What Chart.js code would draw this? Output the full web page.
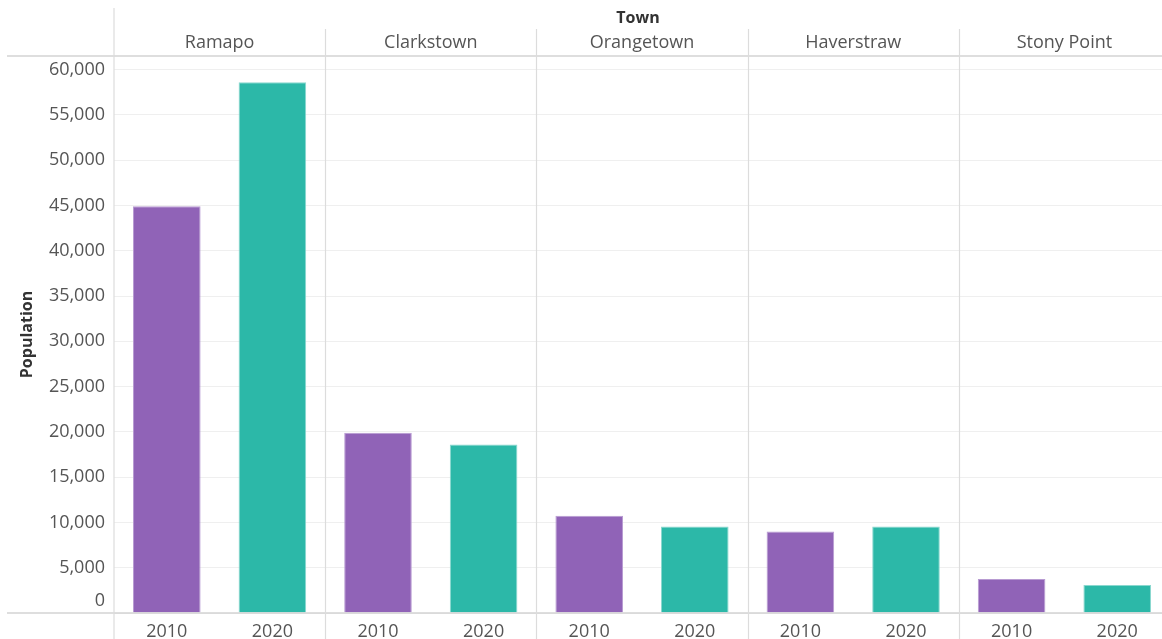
<!DOCTYPE html>
<html>
<head>
<meta charset="utf-8">
<script src="https://cdn.jsdelivr.net/npm/chart.js@4"></script>
<style>
    html, body { margin: 0; padding: 0; background: #fff; overflow: hidden; }
    #wrap { width: 1170px; height: 639px; }
</style>
</head>
<body>
<div id="wrap"><canvas id="chart" width="1170" height="639"></canvas></div>
<script>
// data
const towns = ['Ramapo', 'Clarkstown', 'Orangetown', 'Haverstraw', 'Stony Point'];
const years = ['2010', '2020'];
const pop2010 = [44900, 19900, 10750, 9000, 3750];
const pop2020 = [58600, 18600, 9550, 9550, 3100];
const yTicks = [0, 5000, 10000, 15000, 20000, 25000, 30000, 35000, 40000, 45000, 50000, 55000, 60000];
const yMax = 61500;

const labels = towns.flatMap(() => years);
const data2010 = towns.flatMap((t, i) => [pop2010[i], null]);
const data2020 = towns.flatMap((t, i) => [null, pop2020[i]]);

Chart.defaults.font.family = "'Open Sans', sans-serif";

// town headers, pane borders and separators, like the Tableau facets
const facetPlugin = {
    id: 'facets',
    afterDraw(chart) {
        const ctx = chart.ctx;
        const x = chart.scales.x;
        const y = chart.scales.y;
        const area = chart.chartArea;
        const catW = (x.right - x.left) / labels.length;
        ctx.save();

        ctx.strokeStyle = '#d4d4d4';
        ctx.lineWidth = 1.5;
        ctx.beginPath();
        ctx.moveTo(7, area.top);
        ctx.lineTo(chart.width, area.top);
        ctx.moveTo(7, y.getPixelForValue(0));
        ctx.lineTo(chart.width, y.getPixelForValue(0));
        ctx.stroke();

        ctx.strokeStyle = '#dcdcdc';
        ctx.lineWidth = 1.2;
        ctx.beginPath();
        ctx.moveTo(x.left, 8);
        ctx.lineTo(x.left, chart.height);
        for (let i = 1; i < towns.length; i++) {
            const bx = Math.round(x.left + i * years.length * catW) + 0.5;
            ctx.moveTo(bx, 29);
            ctx.lineTo(bx, chart.height);
        }
        ctx.stroke();

        ctx.textAlign = 'center';
        ctx.textBaseline = 'middle';
        ctx.fillStyle = '#333';
        ctx.font = "bold 16px 'Open Sans', sans-serif";
        ctx.fillText('Town', (x.left + 1162) / 2, 18);

        ctx.fillStyle = '#555';
        ctx.font = "18px 'Open Sans', sans-serif";
        towns.forEach((t, i) => {
            const cx = (x.getPixelForValue(2 * i) + x.getPixelForValue(2 * i + 1)) / 2;
            ctx.fillText(t, cx, 43);
        });

        // Tableau keeps the bottom axis label inside the pane
        ctx.textAlign = 'right';
        ctx.fillText('0', y.right - 9, y.getPixelForValue(0) - 12);
        ctx.restore();
    }
};

new Chart(document.getElementById('chart').getContext('2d'), {
    type: 'bar',
    data: {
        labels: labels,
        datasets: [{
            label: '2010',
            data: data2010,
            backgroundColor: '#9063b7',
            borderColor: '#b89bd2',
            borderWidth: 1,
            grouped: false,
            barPercentage: 0.64,
            categoryPercentage: 1
        }, {
            label: '2020',
            data: data2020,
            backgroundColor: '#2cb8a8',
            borderColor: '#8ad8cf',
            borderWidth: 1,
            grouped: false,
            barPercentage: 0.64,
            categoryPercentage: 1
        }]
    },
    options: {
        responsive: false,
        animation: false,
        layout: { padding: { top: 56, left: 0, right: 0, bottom: 0 } },
        scales: {
            x: {
                grid: { display: false },
                border: { display: false },
                ticks: {
                    color: '#555',
                    font: { size: 18 },
                    padding: 0,
                    maxRotation: 0,
                    autoSkip: false
                },
                afterFit(scale) { scale.height = 26; }
            },
            y: {
                min: 0,
                max: yMax,
                grid: { color: '#efefef', drawTicks: false },
                border: { display: false },
                ticks: {
                    color: '#555',
                    font: { size: 18 },
                    padding: 9,
                    autoSkip: false,
                    callback: v => (v === 0 ? '' : v.toLocaleString('en-US'))
                },
                afterBuildTicks(scale) {
                    scale.ticks = yTicks.map(v => ({ value: v }));
                },
                title: {
                    display: true,
                    text: 'Population',
                    color: '#333',
                    font: { size: 16, weight: 'bold' },
                    padding: { top: 18, bottom: 0 }
                },
                afterFit(scale) { scale.width = 114; }
            }
        },
        plugins: {
            legend: { display: false },
            tooltip: { enabled: false }
        }
    },
    plugins: [facetPlugin]
});
</script>
</body>
</html>
